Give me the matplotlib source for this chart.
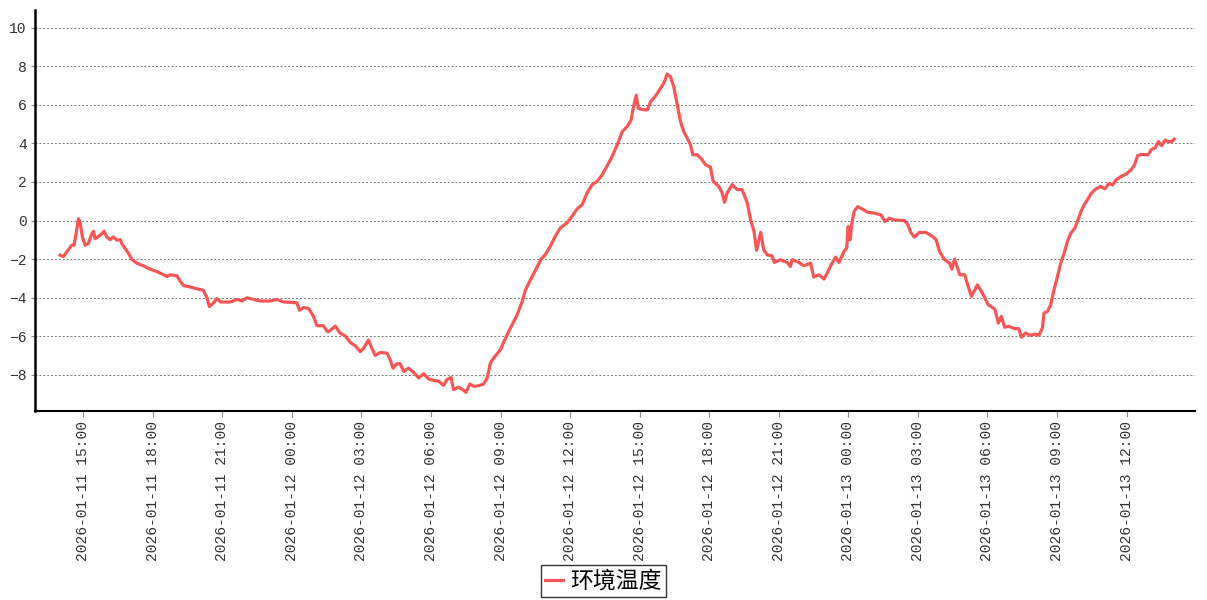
import matplotlib
matplotlib.use('Agg')
import matplotlib.pyplot as plt
import matplotlib.dates as mdates
import numpy as np
import pandas as pd

# readings of 环境温度, hours after 2026-01-11 14:00
start = pd.Timestamp('2026-01-11 14:00')
hours = [0.00, 0.14, 0.29, 0.50, 0.60, 0.69, 0.79, 0.86, 0.96, 1.08, 1.22, 1.37, 1.44, 1.51, 1.66,
         1.80, 1.90, 2.01, 2.16, 2.30, 2.45, 2.59, 2.66, 2.80, 2.95, 3.09, 3.31, 3.60, 3.88, 4.17,
         4.46, 4.60, 4.75, 5.04, 5.18, 5.32, 5.61, 5.90, 6.18, 6.33, 6.44, 6.62, 6.76, 6.91, 7.34,
         7.63, 7.85, 8.06, 8.34, 8.63, 9.06, 9.35, 9.64, 10.21, 10.33, 10.50, 10.72, 10.93, 11.08,
         11.36, 11.51, 11.58, 11.87, 12.08, 12.30, 12.52, 12.73, 12.95, 13.09, 13.30, 13.45, 13.59,
         13.81, 14.10, 14.24, 14.36, 14.53, 14.67, 14.82, 15.03, 15.25, 15.47, 15.68, 15.90, 16.11,
         16.33, 16.54, 16.68, 16.86, 16.97, 17.19, 17.33, 17.51, 17.67, 17.84, 18.05, 18.27, 18.42,
         18.56, 18.70, 18.99, 19.21, 19.42, 19.71, 19.93, 20.07, 20.28, 20.57, 20.75, 20.93, 21.15,
         21.36, 21.58, 21.87, 22.08, 22.30, 22.52, 22.73, 22.95, 23.17, 23.38, 23.60, 23.81, 24.03,
         24.25, 24.46, 24.63, 24.72, 24.85, 24.94, 25.11, 25.33, 25.47, 25.68, 25.90, 26.07, 26.18,
         26.33, 26.47, 26.61, 26.76, 26.90, 27.05, 27.19, 27.29, 27.48, 27.69, 27.84, 28.05, 28.17,
         28.41, 28.56, 28.66, 28.77, 28.99, 29.21, 29.42, 29.64, 29.78, 29.93, 30.04, 30.22, 30.35,
         30.50, 30.71, 30.81, 31.07, 31.36, 31.50, 31.58, 31.86, 32.08, 32.37, 32.51, 32.73, 32.95,
         33.09, 33.26, 33.45, 33.60, 33.81, 33.93, 33.99, 34.08, 34.15, 34.25, 34.40, 34.61, 34.83,
         35.12, 35.41, 35.58, 35.77, 35.98, 36.42, 36.57, 36.69, 36.85, 37.06, 37.35, 37.64, 37.79,
         37.93, 38.15, 38.37, 38.47, 38.58, 38.81, 39.02, 39.17, 39.31, 39.57, 39.82, 40.03, 40.32,
         40.47, 40.60, 40.74, 40.93, 41.15, 41.35, 41.46, 41.64, 41.86, 42.08, 42.22, 42.37, 42.44,
         42.59, 42.73, 42.87, 43.02, 43.16, 43.31, 43.45, 43.59, 43.77, 43.88, 44.02, 44.17, 44.31,
         44.48, 44.67, 44.89, 45.06, 45.25, 45.40, 45.54, 45.76, 45.97, 46.19, 46.34, 46.48, 46.63,
         46.92, 47.06, 47.24, 47.38, 47.50, 47.67, 47.81, 47.95, 48.06]
temp = [-1.79, -1.87, -1.62, -1.28, -1.28, -0.68, 0.09, -0.09, -0.85, -1.28, -1.19, -0.68, -0.56, -0.94, -0.82,
        -0.68, -0.55, -0.85, -0.99, -0.85, -1.02, -0.99, -1.19, -1.45, -1.70, -2.01, -2.21, -2.35, -2.52, -2.64,
        -2.81, -2.90, -2.81, -2.86, -3.15, -3.37, -3.44, -3.54, -3.61, -4.00, -4.46, -4.26, -4.05, -4.22, -4.22,
        -4.09, -4.17, -4.00, -4.09, -4.17, -4.17, -4.09, -4.22, -4.26, -4.65, -4.51, -4.56, -4.97, -5.45,
        -5.45, -5.74, -5.76, -5.47, -5.84, -5.98, -6.32, -6.49, -6.79, -6.62, -6.19, -6.62, -6.99,
        -6.84, -6.87, -7.22, -7.65, -7.42, -7.42, -7.82, -7.65, -7.87, -8.16, -7.94, -8.21, -8.28,
        -8.33, -8.54, -8.25, -8.13, -8.76, -8.64, -8.73, -8.90, -8.47, -8.59, -8.56, -8.47, -8.16,
        -7.39, -7.13, -6.70, -6.10, -5.58, -4.90, -4.21, -3.61, -3.09, -2.41, -2.00, -1.76, -1.33,
        -0.81, -0.38, -0.12, 0.22, 0.60, 0.82, 1.43, 1.86, 2.03, 2.37, 2.84, 3.32, 3.92,
        4.61, 4.87, 5.21, 5.81, 6.50, 5.81, 5.76, 5.73, 6.16, 6.45, 6.85, 7.19, 7.59,
        7.45, 6.93, 6.07, 5.13, 4.61, 4.27, 3.92, 3.41, 3.41, 3.15, 2.89, 2.77, 2.03,
        1.77, 1.43, 0.94, 1.43, 1.86, 1.60, 1.60, 0.91, 0.05, -0.55, -1.54, -0.61, -1.52,
        -1.78, -1.83, -2.17, -2.03, -2.17, -2.38, -2.03, -2.17, -2.34, -2.21, -2.93, -2.81, -3.03,
        -2.72, -2.29, -1.90, -2.17, -1.60, -1.43, -0.31, -1.00, -0.14, 0.47, 0.72, 0.59, 0.43,
        0.38, 0.29, -0.05, 0.12, 0.03, 0.00, -0.22, -0.62, -0.86, -0.62, -0.62, -0.83, -1.00,
        -1.60, -2.03, -2.21, -2.52, -2.00, -2.81, -2.81, -3.41, -3.93, -3.33, -3.84, -4.36, -4.59,
        -5.31, -4.97, -5.53, -5.48, -5.60, -5.60, -6.05, -5.83, -5.95, -5.88, -5.95, -5.57, -4.79,
        -4.71, -4.36, -3.59, -2.90, -2.21, -1.69, -1.09, -0.66, -0.40, -0.05, 0.43, 0.81, 1.07,
        1.41, 1.64, 1.76, 1.64, 1.93, 1.84, 2.10, 2.28, 2.40, 2.62, 2.88, 3.36, 3.43,
        3.40, 3.66, 3.78, 4.09, 3.88, 4.17, 4.09, 4.09, 4.22]
series_name = '环境温度'
yticks = [-8, -6, -4, -2, 0, 2, 4, 6, 8, 10]

times = start + pd.to_timedelta(hours, unit='h')

fig = plt.figure(figsize=(12.07, 6.0), dpi=100)
ax = fig.add_axes([0.029, 0.315, 0.961, 0.668])

ax.plot(times, temp, color='#f85656', lw=2.3, label=series_name)

ax.set_xlim(pd.Timestamp('2026-01-11 12:55'), pd.Timestamp('2026-01-13 14:57'))
ax.set_ylim(-9.87, 10.9)
ax.set_yticks(yticks)
ax.xaxis.set_major_locator(mdates.HourLocator(byhour=range(0, 24, 3)))
ax.xaxis.set_major_formatter(mdates.DateFormatter('%Y-%m-%d %H:%M'))

ax.grid(axis='y', color='#777777', ls=(0, (2, 2)), lw=0.7)
ax.set_axisbelow(True)
for s in ['top', 'right']:
    ax.spines[s].set_visible(False)
ax.spines['left'].set_linewidth(1.8)
ax.spines['bottom'].set_linewidth(1.5)

for lab in ax.get_xticklabels() + ax.get_yticklabels():
    lab.set_fontfamily('Liberation Mono')
    lab.set_fontsize(10.5)
    lab.set_color('#333333')
plt.setp(ax.get_xticklabels(), rotation=90)
ax.tick_params(axis='x', length=4, color='#888888', pad=3)
ax.tick_params(axis='y', length=3, color='#888888', pad=3)

leg = fig.legend(loc='center', bbox_to_anchor=(0.5, 0.031), fancybox=False,
                 edgecolor='black', handlelength=0.8, handletextpad=0.3,
                 borderpad=0.2, prop={'family': ['Noto Sans CJK SC', 'DejaVu Sans'], 'size': 16.5})
leg.get_frame().set_linewidth(1.0)

fig.savefig('out.png', dpi=100)
